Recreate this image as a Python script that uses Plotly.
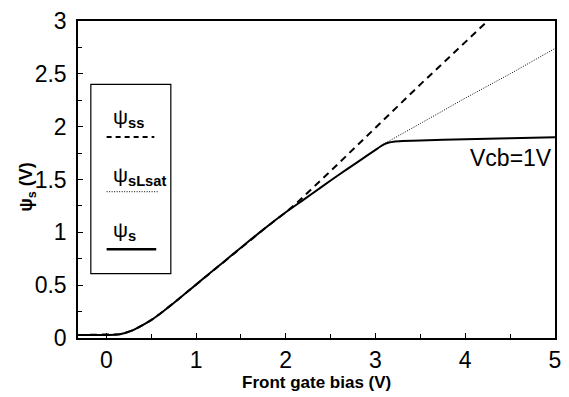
import plotly.graph_objects as go

# ---- data ----
x_s = [-0.315, 0.0, 0.1, 0.15, 0.2, 0.3, 0.4, 0.5, 0.6, 0.7, 0.8, 0.9, 1.0, 1.2, 1.4,
       1.6, 1.8, 2.0, 2.2, 2.4, 2.6, 2.8, 3.0, 3.05, 3.1, 3.15, 3.2, 3.3, 3.5, 4.0,
       4.5, 5.0]
psi_s = [0.028, 0.028, 0.03, 0.035, 0.045, 0.075, 0.12, 0.17, 0.23, 0.295, 0.365, 0.435,
         0.505, 0.645, 0.785, 0.925, 1.06, 1.19, 1.31, 1.43, 1.55, 1.665, 1.78, 1.81,
         1.835, 1.85, 1.858, 1.864, 1.87, 1.88, 1.89, 1.90]

x_ss = [-0.315, 0.0, 0.1, 0.15, 0.2, 0.3, 0.4, 0.5, 0.6, 0.7, 0.8, 0.9, 1.0, 1.2, 1.4,
        1.6, 1.8, 2.0, 2.1, 2.2, 2.5, 3.0, 3.5, 4.0, 4.3]
psi_ss = [0.028, 0.028, 0.03, 0.035, 0.045, 0.075, 0.12, 0.17, 0.23, 0.295, 0.365, 0.435,
          0.505, 0.645, 0.785, 0.925, 1.06, 1.19, 1.26, 1.34, 1.58, 1.99, 2.40, 2.80, 3.04]

x_lsat = [-0.315, 0.0, 0.1, 0.15, 0.2, 0.3, 0.4, 0.5, 0.6, 0.7, 0.8, 0.9, 1.0, 1.2, 1.4,
          1.6, 1.8, 2.0, 2.2, 2.4, 2.6, 2.8, 3.0, 3.1, 3.5, 4.0, 4.5, 5.0]
psi_lsat = [0.028, 0.028, 0.03, 0.035, 0.045, 0.075, 0.12, 0.17, 0.23, 0.295, 0.365, 0.435,
            0.505, 0.645, 0.785, 0.925, 1.06, 1.19, 1.31, 1.43, 1.55, 1.665, 1.78, 1.84,
            2.03, 2.27, 2.50, 2.74]

x_ticks = [0, 1, 2, 3, 4, 5]
y_ticks = [0, 0.5, 1, 1.5, 2, 2.5, 3]
y_tick_labels = ["0", "0.5", "1", "1.5", "2", "2.5", "3"]

FONT = "Liberation Sans, Arial, sans-serif"

fig = go.Figure()
fig.add_trace(go.Scatter(x=x_s, y=psi_s, mode="lines", name="ψs",
                         line=dict(color="black", width=2, shape="spline", smoothing=0.6),
                         showlegend=False))
fig.add_trace(go.Scatter(x=x_lsat, y=psi_lsat, mode="lines", name="ψsLsat",
                         line=dict(color="black", width=1, dash="1px,1.5px"), showlegend=False))
fig.add_trace(go.Scatter(x=x_ss, y=psi_ss, mode="lines", name="ψss",
                         line=dict(color="black", width=2, dash="7px,5px"), showlegend=False))

fig.update_layout(
    width=569, height=397,
    margin=dict(l=78, r=8, t=13, b=59),
    paper_bgcolor="white", plot_bgcolor="white",
    font=dict(family=FONT, color="black"),
    xaxis=dict(range=[-0.315, 5.0], tickvals=x_ticks, ticks="inside", ticklen=5,
               tickcolor="black", showline=True, linecolor="black", linewidth=1.5,
               mirror=True, showgrid=False, zeroline=False,
               tickfont=dict(size=23, family=FONT), ticklabelstandoff=1,
               minor=dict(dtick=0.5, ticks="inside", ticklen=4, tickcolor="black")),
    yaxis=dict(range=[0, 3], tickvals=y_ticks, ticktext=y_tick_labels, ticks="inside",
               ticklen=5, tickcolor="black", showline=True, linecolor="black",
               linewidth=1.5, mirror=True, showgrid=False, zeroline=False,
               tickfont=dict(size=23, family=FONT), ticklabelstandoff=5,
               minor=dict(dtick=0.25, ticks="inside", ticklen=4, tickcolor="black")),
)

# axis titles
fig.add_annotation(text="<b>Front gate bias (V)</b>", xref="paper", yref="paper",
                   x=0.5, y=-0.14, xanchor="center", yanchor="middle",
                   showarrow=False, font=dict(size=17, family=FONT))
fig.add_annotation(text="<b>ψ<sub>s</sub> (V)</b>", xref="paper", yref="paper",
                   x=-0.105, y=0.477, xanchor="center", yanchor="middle", textangle=-90,
                   showarrow=False, font=dict(size=18, family=FONT))

# curve label
fig.add_annotation(text="Vcb=1V", x=4.99, y=1.70, xanchor="right", yanchor="middle",
                   showarrow=False, font=dict(size=23, family=FONT))

# legend box
fig.add_shape(type="rect", xref="paper", yref="paper", x0=0.0269, x1=0.1946,
              y0=0.203, y1=0.80, line=dict(color="black", width=1.2),
              fillcolor="white", layer="below")
fig.add_shape(type="line", xref="paper", yref="paper", x0=0.060, x1=0.160,
              y0=0.634, y1=0.634, line=dict(color="black", width=2, dash="5px,4px"))
fig.add_shape(type="line", xref="paper", yref="paper", x0=0.060, x1=0.168,
              y0=0.4615, y1=0.4615, line=dict(color="black", width=1, dash="1px,1.5px"))
fig.add_shape(type="line", xref="paper", yref="paper", x0=0.060, x1=0.164,
              y0=0.28, y1=0.28, line=dict(color="black", width=2.5))

for txt, yy in [("ψ<sub><b>ss</b></sub>", 0.695),
                ("ψ<sub><b>sLsat</b></sub>", 0.511),
                ("ψ<sub><b>s</b></sub>", 0.338)]:
    fig.add_annotation(text=txt, xref="paper", yref="paper", x=0.070, y=yy,
                       xanchor="left", yanchor="middle", showarrow=False,
                       font=dict(size=21, family=FONT))

fig.write_html("out.html")
